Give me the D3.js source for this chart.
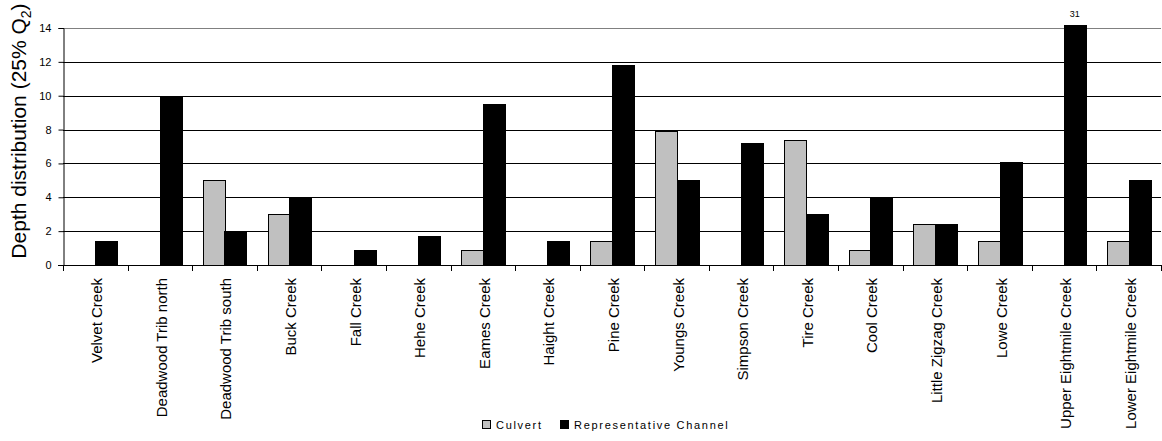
<!DOCTYPE html>
<html>
<head>
<meta charset="utf-8">
<script src="https://cdn.jsdelivr.net/npm/d3@7/dist/d3.min.js"></script>
<style>
  html, body { margin: 0; padding: 0; background: #fff; }
  svg { display: block; font-family: Arial, "Liberation Sans", sans-serif; }
</style>
</head>
<body>
<svg id="chart" width="1162" height="441"></svg>
<script>
// Stream crossings: culvert vs representative channel depth distribution
const categories = [
  "Velvet Creek", "Deadwood Trib north", "Deadwood Trib south", "Buck Creek",
  "Fall Creek", "Hehe Creek", "Eames Creek", "Haight Creek", "Pine Creek",
  "Youngs Creek", "Simpson Creek", "Tire Creek", "Cool Creek",
  "Little Zigzag Creek", "Lowe Creek", "Upper Eightmile Creek", "Lower Eightmile Creek"
];
const culvert = [null, null, 5.0, 3.0, null, null, 0.9, null, 1.4, 7.9, null, 7.4, 0.9, 2.4, 1.4, null, 1.4];
const channel = [1.4, 10.0, 2.0, 4.0, 0.9, 1.7, 9.5, 1.4, 11.8, 5.0, 7.2, 3.0, 4.0, 2.4, 6.1, 31, 5.0];
const seriesNames = ["Culvert", "Representative Channel"];
const seriesColors = ["#c0c0c0", "#000000"];
const yTicks = [0, 2, 4, 6, 8, 10, 12, 14];

const svg = d3.select("#chart");
const plotLeft = 63, plotRight = 1161, plotTop = 28, plotBottom = 265;

const x = d3.scaleBand().domain(categories).range([plotLeft, plotRight]).paddingInner(0).paddingOuter(0);
const xs = d3.scaleBand().domain(seriesNames).range([0, x.bandwidth()]).paddingInner(0).paddingOuter(0.5);
const y = d3.scaleLinear().domain([0, 14]).range([plotBottom, plotTop]);

// clip region lets an off-scale bar run just past the top of the axis
svg.append("defs").append("clipPath").attr("id", "plotClip")
  .append("rect").attr("x", plotLeft).attr("y", plotTop - 3)
  .attr("width", plotRight - plotLeft).attr("height", plotBottom - plotTop + 3);

// horizontal gridlines
svg.append("g")
  .selectAll("line").data(yTicks.filter(t => t > 0)).join("line")
  .attr("x1", plotLeft).attr("x2", plotRight)
  .attr("y1", d => Math.round(y(d)) + 0.5).attr("y2", d => Math.round(y(d)) + 0.5)
  .attr("stroke", d => d === 14 ? "#808080" : "#000")
  .attr("stroke-width", 1);

// bars
const rows = categories.map((c, i) => ({ cat: c, vals: [culvert[i], channel[i]] }));
const barG = svg.append("g").attr("clip-path", "url(#plotClip)");
rows.forEach(r => {
  r.vals.forEach((v, k) => {
    if (v == null) return;
    const x0 = x(r.cat) + xs(seriesNames[k]);
    const yTop = y(v);
    barG.append("rect")
      .attr("x", Math.round(x0) + 0.5)
      .attr("y", Math.round(yTop) + 0.5)
      .attr("width", Math.round(xs.bandwidth()))
      .attr("height", Math.max(0, Math.round(plotBottom) - Math.round(yTop)))
      .attr("fill", seriesColors[k])
      .attr("stroke", "#000")
      .attr("stroke-width", 1);
  });
});

// value label for the off-scale bar
rows.forEach(r => {
  const v = r.vals[1];
  if (v > 14) {
    svg.append("text")
      .attr("x", x(r.cat) + xs(seriesNames[1]) + xs.bandwidth() / 2)
      .attr("y", 16.5)
      .attr("text-anchor", "middle")
      .attr("font-size", 9)
      .attr("fill", "#000")
      .text(v);
  }
});

// y axis
const yAxis = svg.append("g").attr("transform", `translate(${plotLeft + 0.5},0)`)
  .call(d3.axisLeft(y).tickValues(yTicks).tickSize(5).tickPadding(7).tickFormat(d3.format("d")));
yAxis.select(".domain").attr("stroke", "#000");
yAxis.selectAll(".tick line").attr("stroke", "#000");
yAxis.selectAll("text").attr("font-size", 11).attr("fill", "#000")
  .attr("font-family", "Arial, 'Liberation Sans', sans-serif");

// x axis line and category boundary ticks
svg.append("line").attr("x1", plotLeft - 5).attr("x2", plotRight)
  .attr("y1", plotBottom + 0.5).attr("y2", plotBottom + 0.5).attr("stroke", "#000");
const boundaries = categories.map(c => x(c)).concat([plotRight]);
svg.append("g").selectAll("line").data(boundaries).join("line")
  .attr("x1", d => Math.round(d) + 0.5).attr("x2", d => Math.round(d) + 0.5)
  .attr("y1", plotBottom).attr("y2", plotBottom + 6).attr("stroke", "#000");

// rotated category labels
svg.append("g").selectAll("text").data(categories).join("text")
  .attr("transform", d => `translate(${x(d) + x.bandwidth() / 2 + 7},${plotBottom + 13}) rotate(-90)`)
  .attr("text-anchor", "end")
  .attr("font-size", 15)
  .attr("fill", "#000")
  .text(d => d);

// y axis title
const yTitle = svg.append("text")
  .attr("transform", `translate(26,131) rotate(-90)`)
  .attr("text-anchor", "middle")
  .attr("font-size", 21)
  .attr("fill", "#000");
yTitle.append("tspan").text("Depth distribution (25% Q");
yTitle.append("tspan").attr("font-size", 14).attr("dy", 5).text("2");
yTitle.append("tspan").attr("dy", -5).text(")");

// legend
const legend = svg.append("g").attr("transform", "translate(482,420)");
const legendX = [0, 78];
seriesNames.forEach((s, k) => {
  const g = legend.append("g").attr("transform", `translate(${legendX[k]},0)`);
  g.append("rect").attr("x", 0.5).attr("y", 0.5).attr("width", 8).attr("height", 8)
    .attr("fill", seriesColors[k]).attr("stroke", "#000").attr("stroke-width", 1);
  g.append("text").attr("x", 14).attr("y", 8.5)
    .attr("font-size", 11).attr("letter-spacing", 1.7).attr("fill", "#000").text(s);
});
</script>
</body>
</html>
